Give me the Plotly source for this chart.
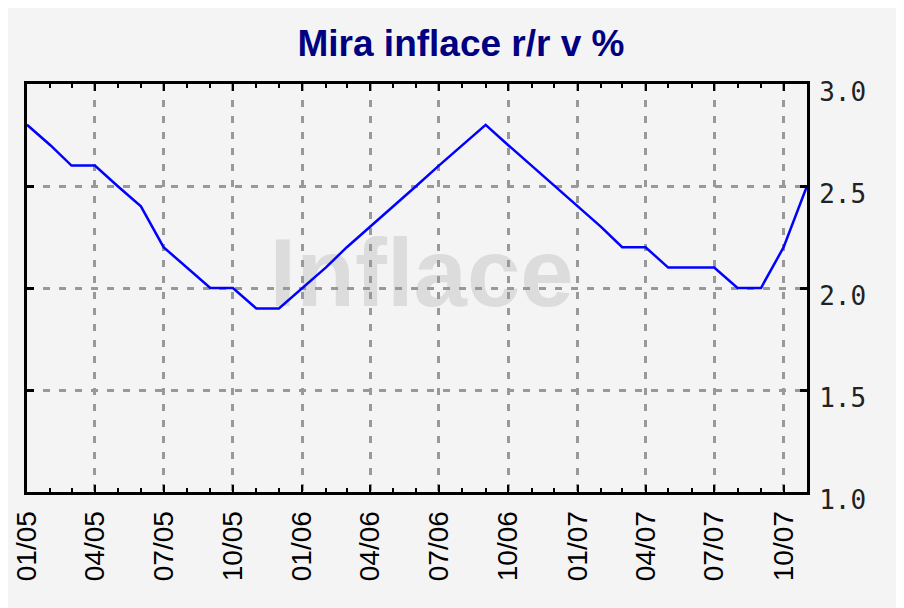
import plotly.graph_objects as go

# Monthly dates Jan 2005 .. Nov 2007
months = [
    "2005-01-01", "2005-02-01", "2005-03-01", "2005-04-01", "2005-05-01", "2005-06-01",
    "2005-07-01", "2005-08-01", "2005-09-01", "2005-10-01", "2005-11-01", "2005-12-01",
    "2006-01-01", "2006-02-01", "2006-03-01", "2006-04-01", "2006-05-01", "2006-06-01",
    "2006-07-01", "2006-08-01", "2006-09-01", "2006-10-01", "2006-11-01", "2006-12-01",
    "2007-01-01", "2007-02-01", "2007-03-01", "2007-04-01", "2007-05-01", "2007-06-01",
    "2007-07-01", "2007-08-01", "2007-09-01", "2007-10-01", "2007-11-01",
]
inflation = [
    2.8, 2.7, 2.6, 2.6, 2.5, 2.4, 2.2, 2.1, 2.0, 2.0, 1.9, 1.9,
    2.0, 2.1, 2.2, 2.3, 2.4, 2.5, 2.6, 2.7, 2.8, 2.7, 2.6, 2.5,
    2.4, 2.3, 2.2, 2.2, 2.1, 2.1, 2.1, 2.0, 2.0, 2.2, 2.5,
]
tick_dates = [
    "2005-01-01", "2005-04-01", "2005-07-01", "2005-10-01",
    "2006-01-01", "2006-04-01", "2006-07-01", "2006-10-01",
    "2007-01-01", "2007-04-01", "2007-07-01", "2007-10-01",
]
tick_labels = ["01/05", "04/05", "07/05", "10/05", "01/06", "04/06",
               "07/06", "10/06", "01/07", "04/07", "07/07", "10/07"]
y_ticks = [1.0, 1.5, 2.0, 2.5, 3.0]

title_text = "Mira inflace r/r v %"
watermark_text = "Inflace"

BG = "#f4f4f4"

fig = go.Figure()
fig.add_trace(go.Scatter(
    x=months, y=inflation, mode="lines",
    line=dict(color="#0000ff", width=2.5),
    showlegend=False, hoverinfo="skip",
))

fig.update_layout(
    width=904, height=608,
    paper_bgcolor=BG, plot_bgcolor=BG,
    margin=dict(l=19, r=105, t=76, b=124, autoexpand=False),
    title=dict(
        text="<b>" + title_text + "</b>",
        x=453 / 904, xanchor="center", y=1 - 35 / 608, yanchor="middle",
        font=dict(family="Liberation Sans, Arial, sans-serif", size=37, color="#000080"),
    ),
    shapes=[
        dict(type="rect", xref="paper", yref="paper",
             x0=0.506 - 0.1, x1=0.506 + 0.1,
             y0=0.559 - 0.07, y1=0.559 + 0.07,
             line=dict(width=0), fillcolor="rgba(0,0,0,0)", layer="between",
             label=dict(text="<b>" + watermark_text + "</b>",
                        textposition="middle center",
                        font=dict(family="Liberation Sans, Arial, sans-serif",
                                  size=96, color="#dcdcdc"))),
    ],
)

fig.update_xaxes(
    type="date",
    range=["2005-01-01", "2007-11-01"],
    tickmode="array", tickvals=tick_dates, ticktext=tick_labels,
    tickangle=-90,
    tickfont=dict(family="Liberation Sans, Arial, sans-serif",
                  size=28, color="#000000"),
    ticklabelstandoff=5,
    ticks="inside", ticklen=7, tickwidth=2, tickcolor="#000000",
    showline=True, linewidth=3, linecolor="#000000", mirror="ticks",
    showgrid=True, gridcolor="#999999", gridwidth=2.5, griddash="7px,9px",
    minor=dict(dtick="M1", tick0="2005-01-01", ticks="inside", ticklen=4,
               tickwidth=2, tickcolor="#000000", showgrid=False),
    zeroline=False, fixedrange=True,
)

fig.update_yaxes(
    side="right",
    range=[1.0, 3.0],
    tickmode="array", tickvals=y_ticks, tickformat=".1f",
    tickfont=dict(family="DejaVu Sans Mono, monospace",
                  size=26, color="#222222"),
    ticklabelshift=8, ticklabelstandoff=4,
    ticks="inside", ticklen=7, tickwidth=3, tickcolor="#000000",
    showline=True, linewidth=3, linecolor="#000000", mirror="ticks",
    showgrid=True, gridcolor="#999999", gridwidth=2.5, griddash="7px,9px",
    zeroline=False, fixedrange=True,
)

fig.write_html("out.html")
